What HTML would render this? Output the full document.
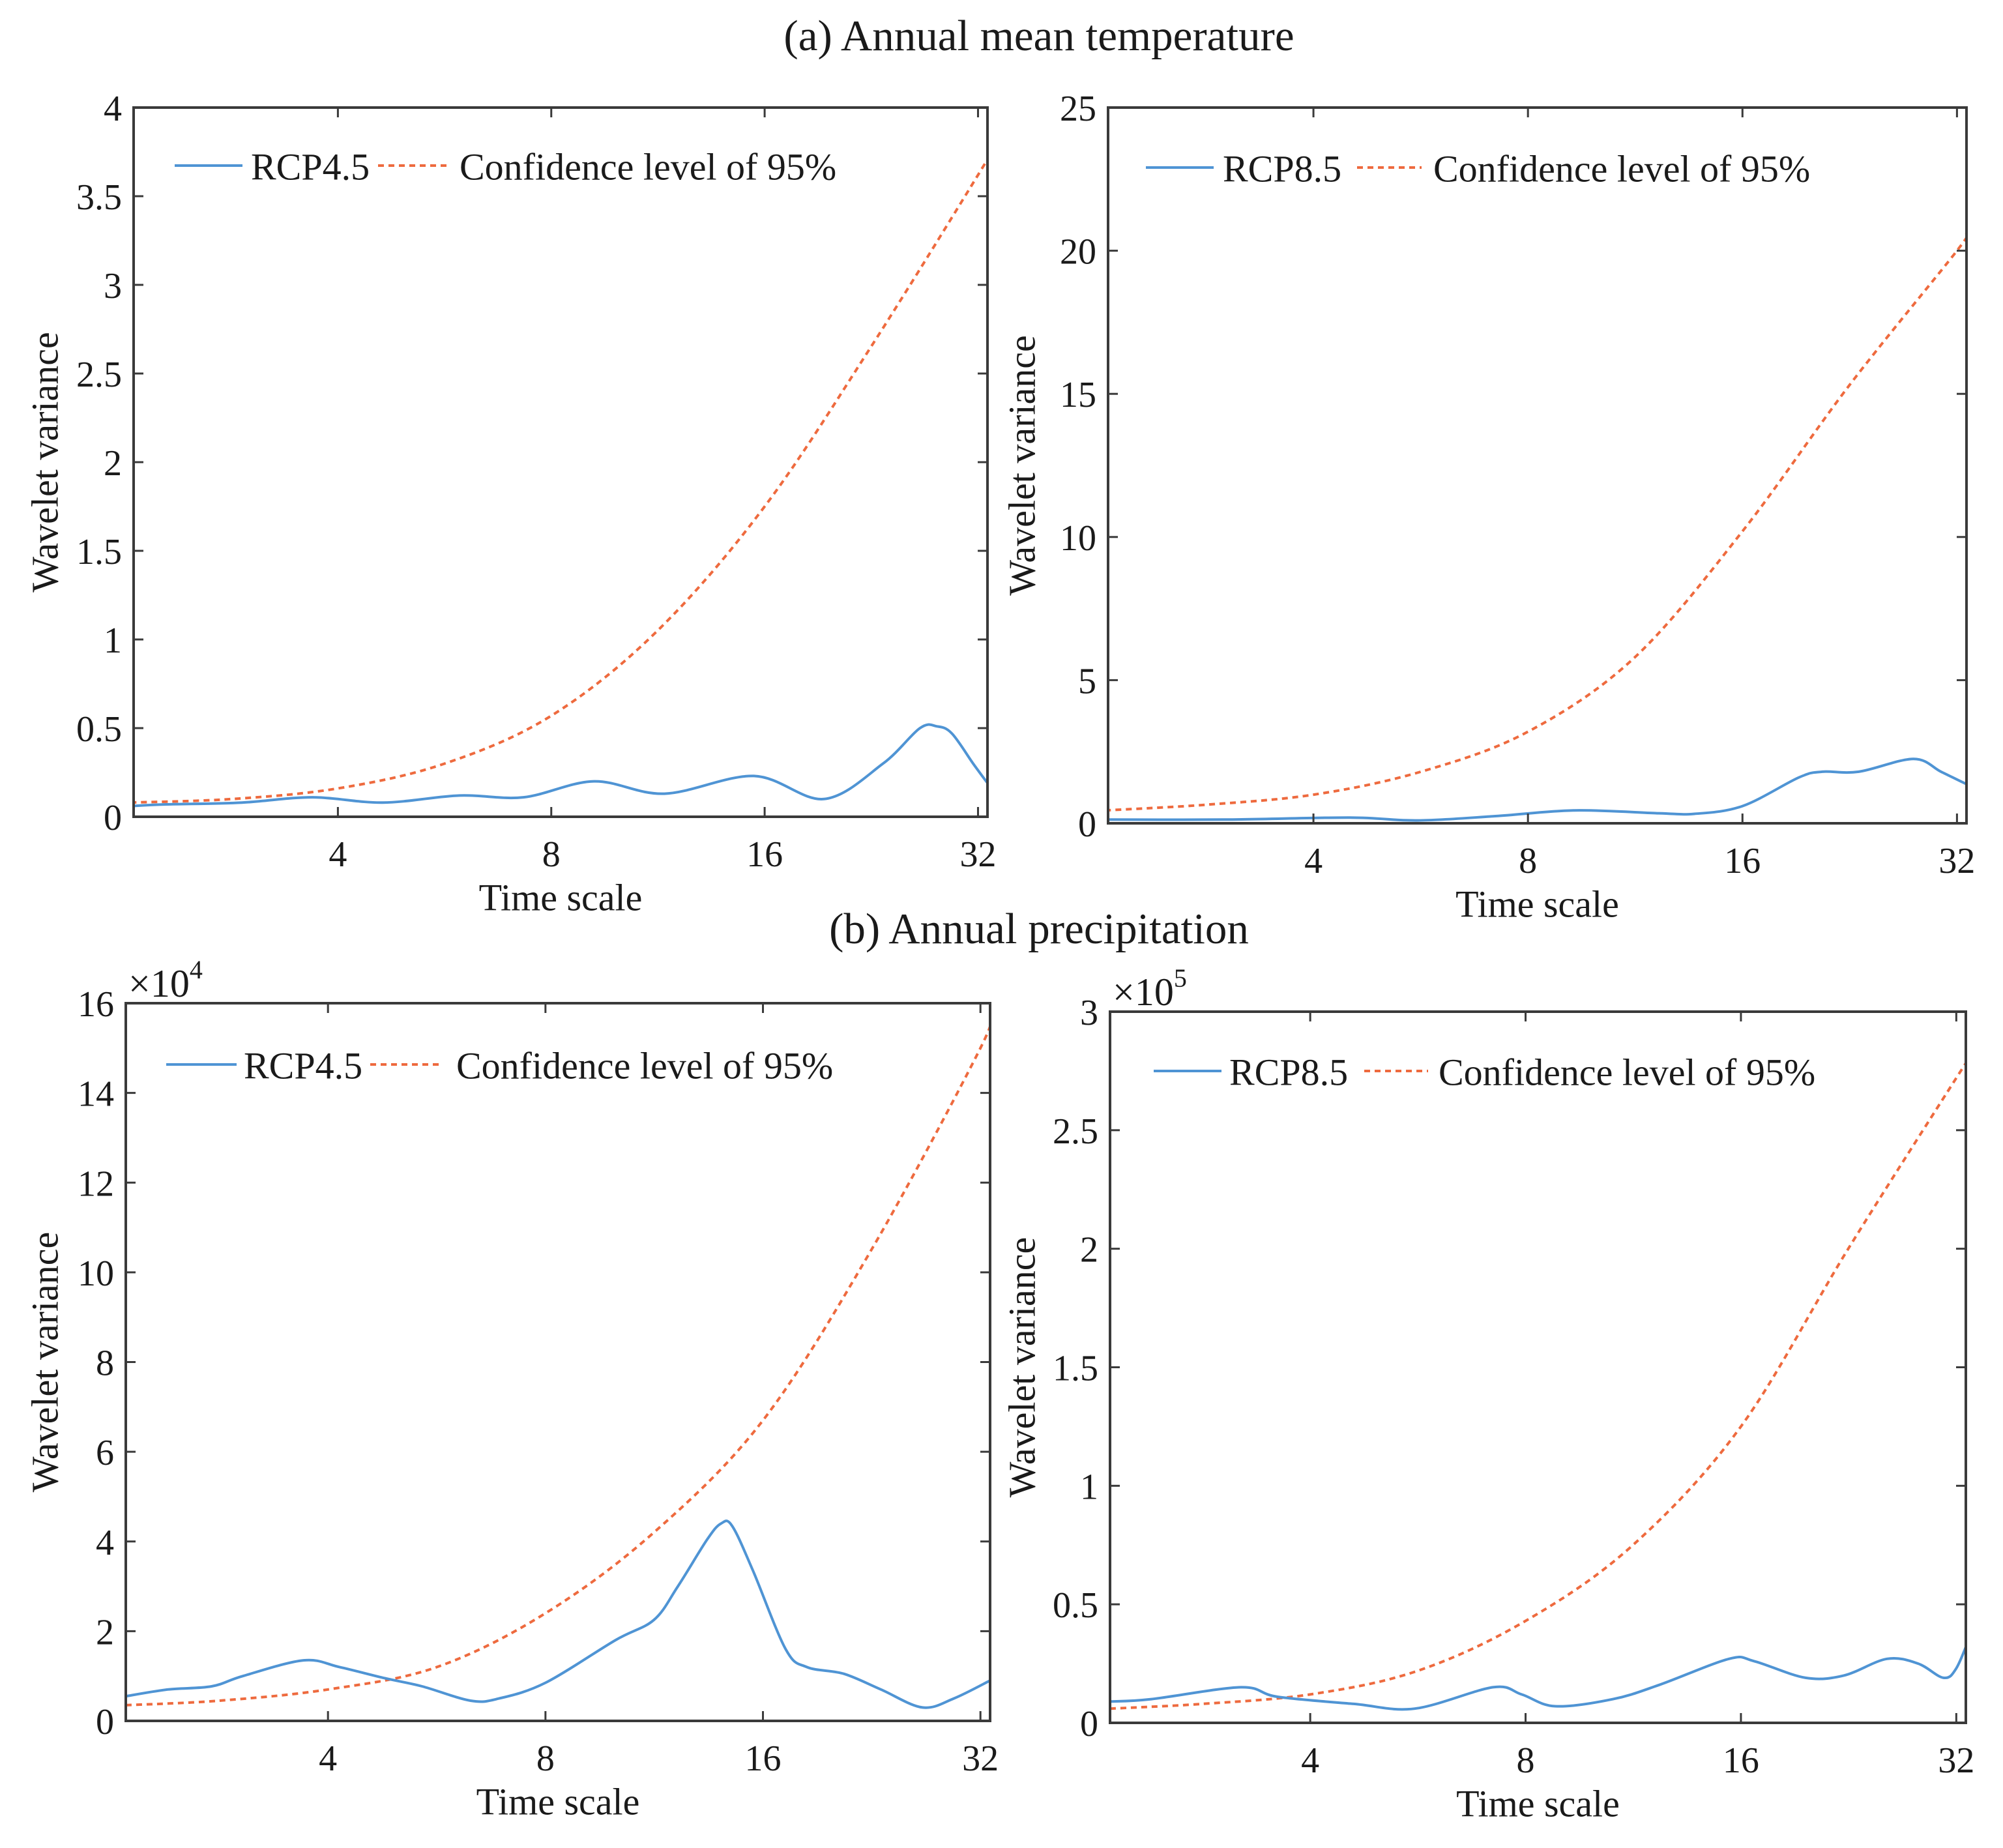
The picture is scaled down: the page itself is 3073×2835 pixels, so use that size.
<!DOCTYPE html>
<html><head><meta charset="utf-8"><style>
html,body{margin:0;padding:0;background:#fff}
svg{display:block}
text{font-family:"Liberation Serif","DejaVu Serif",serif;fill:#1a1a1a}
</style></head><body>
<svg id="fig" width="3073" height="2835" viewBox="0 0 3073 2835" xmlns="http://www.w3.org/2000/svg">
<text x="1594" y="55" font-size="67" text-anchor="middle" dominant-baseline="central">(a) Annual mean temperature</text>
<text x="1594" y="1425" font-size="67" text-anchor="middle" dominant-baseline="central">(b) Annual precipitation</text>
</svg>
<script>
// Panel A-left (temperature RCP4.5)
const aL_blueX = [2.04,2.29,2.93,3.68,4.63,5.94,7.31,9.19,11.55,15.45,19.4,23.5,26.5,28.0,29.4,31.5,33];
const aL_blueY = [0.06,0.07,0.08,0.11,0.08,0.12,0.11,0.2,0.13,0.23,0.1,0.3,0.5,0.51,0.47,0.3,0.19];
const aL_confX = [2.04,2.83,4,5.66,8,11.3,16,22.6,32,33];
const aL_confY = [0.08,0.1,0.16,0.3,0.57,1.05,1.75,2.65,3.62,3.72];
const aL_ticksY = ["0","0.5","1","1.5","2","2.5","3","3.5","4"];
// Panel A-right (temperature RCP8.5)
const aR_blueX = [2.04,3,4.5,5.6,7.2,9.3,12.2,13.7,16,19.2,20.7,23.3,27.8,30.4,32.8,33];
const aR_blueY = [0.13,0.13,0.2,0.1,0.25,0.45,0.35,0.33,0.6,1.6,1.8,1.8,2.25,1.8,1.4,1.4];
const aR_confX = [2.04,2.83,4,5.66,8,11.3,16,22.6,32,33];
const aR_confY = [0.45,0.65,1.0,1.8,3.2,5.8,10.2,15.3,20.0,20.6];
const aR_ticksY = ["0","5","10","15","20","25"];
// Panel B-left (precipitation RCP4.5, x10^4)
const bL_blueX = [2.1,2.4,2.76,3.05,3.7,4.15,4.8,5.4,6.3,6.9,8,10,11.3,12.2,13.4,14,14.5,15.5,17.2,18.4,20.7,23.3,26.6,29.4,33];
const bL_blueY = [0.55,0.7,0.77,1.0,1.35,1.2,0.95,0.77,0.45,0.5,0.85,1.8,2.25,3.0,4.05,4.4,4.35,3.35,1.6,1.2,1.05,0.7,0.3,0.5,0.9];
const bL_confX = [2.1,2.83,4,5.66,8,11.3,16,22.6,32,33];
const bL_confY = [0.35,0.45,0.7,1.2,2.4,4.2,6.7,10.5,15.0,15.8];
const bL_ticksY = ["0","2","4","6","8","10","12","14","16"];
// Panel B-right (precipitation RCP8.5, x10^5)
const bR_blueX = [2.1,2.4,3.2,3.6,4.6,5.6,7.2,7.9,8.8,10.6,12.3,15.4,16.7,19.7,22.3,25.6,28.3,30.7,32,33.5];
const bR_blueY = [0.09,0.1,0.15,0.11,0.08,0.06,0.15,0.12,0.07,0.1,0.16,0.27,0.26,0.19,0.2,0.27,0.25,0.19,0.23,0.37];
const bR_confX = [2.1,2.83,4,5.66,8,11.3,16,22.6,32,33];
const bR_confY = [0.06,0.08,0.12,0.22,0.43,0.75,1.25,2.0,2.72,2.78];
const bR_ticksY = ["0","0.5","1","1.5","2","2.5","3"];
const xTicks = [4,8,16,32];

const NS = "http://www.w3.org/2000/svg";
const svg = document.getElementById('fig');
function mk(tag, attrs, parent){
  const e = document.createElementNS(NS, tag);
  for (const k in attrs) e.setAttribute(k, attrs[k]);
  (parent||svg).appendChild(e);
  return e;
}
function smoothPath(pts){
  let d = "M"+pts[0][0].toFixed(1)+","+pts[0][1].toFixed(1);
  for (let i=0;i<pts.length-1;i++){
    const p0=pts[Math.max(0,i-1)], p1=pts[i], p2=pts[i+1], p3=pts[Math.min(pts.length-1,i+2)];
    const c1=[p1[0]+(p2[0]-p0[0])/6, p1[1]+(p2[1]-p0[1])/6];
    const c2=[p2[0]-(p3[0]-p1[0])/6, p2[1]-(p3[1]-p1[1])/6];
    d += " C"+c1[0].toFixed(1)+","+c1[1].toFixed(1)+" "+c2[0].toFixed(1)+","+c2[1].toFixed(1)+" "+p2[0].toFixed(1)+","+p2[1].toFixed(1);
  }
  return d;
}
function panel(cfg){
  const g = mk('g', {});
  
  
  const {L,R,T,B,ymax} = cfg;
  const lx0 = Math.log2(cfg.xmin), lx1 = Math.log2(cfg.xmax);
  const X = v => L + (Math.log2(v)-lx0)/(lx1-lx0)*(R-L);
  const Y = v => B - v/ymax*(B-T);
  const cid = 'clip-'+cfg.name;
  const cp = mk('clipPath', {id:cid}, g);
  mk('rect', {x:L, y:T, width:R-L, height:B-T}, cp);
  const conf = mk('path', {d:smoothPath(cfg.confX.map((x,i)=>[X(x),Y(cfg.confY[i])])), fill:'none', stroke:'#ee6a3e', 'stroke-width':4, 'stroke-dasharray':'9 7', 'clip-path':'url(#'+cid+')'}, g);
  
  
  const blue = mk('path', {d:smoothPath(cfg.blueX.map((x,i)=>[X(x),Y(cfg.blueY[i])])), fill:'none', stroke:'#4f94d4', 'stroke-width':4, 'clip-path':'url(#'+cid+')'}, g);
  
  
  const box = mk('rect', {x:L, y:T, width:R-L, height:B-T, fill:'none', stroke:'#3a3a3a', 'stroke-width':4}, g);
  
  
  xTicks.forEach(t=>{
    const x = X(t);
    mk('line', {x1:x, x2:x, y1:B, y2:B-15, stroke:'#3a3a3a', 'stroke-width':3}, g);
    mk('line', {x1:x, x2:x, y1:T, y2:T+15, stroke:'#3a3a3a', 'stroke-width':3}, g);
    const tl = mk('text', {x:x, y:B+58, 'font-size':56, 'text-anchor':'middle', 'dominant-baseline':'central'}, g);
    tl.textContent = String(t);
    
    
  });
  cfg.ticksY.forEach(s=>{
    const y = Y(parseFloat(s));
    mk('line', {x1:L, x2:L+15, y1:y, y2:y, stroke:'#3a3a3a', 'stroke-width':3}, g);
    mk('line', {x1:R, x2:R-15, y1:y, y2:y, stroke:'#3a3a3a', 'stroke-width':3}, g);
    const tl = mk('text', {x:L-18, y:y+2, 'font-size':56, 'text-anchor':'end', 'dominant-baseline':'central'}, g);
    tl.textContent = s;
    
    
  });
  const xt = mk('text', {x:(L+R)/2, y:B+124, 'font-size':58, 'text-anchor':'middle', 'dominant-baseline':'central'}, g);
  xt.textContent = 'Time scale';
  
  
  const yt = mk('text', {x:0, y:0, 'font-size':58, 'text-anchor':'middle', 'dominant-baseline':'central', transform:'translate('+cfg.ylabX+','+(T+B)/2+') rotate(-90)'}, g);
  yt.textContent = 'Wavelet variance';
  
  
  if (cfg.exp){
    const ex = mk('text', {x:L+4, y:T-30, 'font-size':60, 'text-anchor':'start', 'dominant-baseline':'central'}, g);
    ex.textContent = '\u00d710';
    
    
    const ts = mk('tspan', {dy:-22, 'font-size':40}, ex);
    ts.textContent = cfg.exp;
  }
  const lg = mk('g', {}, g);
  
  
  const ly = T + cfg.legDy;
  mk('line', {x1:L+cfg.leg[0], x2:L+cfg.leg[1], y1:ly, y2:ly, stroke:'#4f94d4', 'stroke-width':4}, lg);
  const t1 = mk('text', {x:L+cfg.leg[2], y:ly+2, 'font-size':58, 'dominant-baseline':'central'}, lg);
  t1.textContent = cfg.series;
  
  
  mk('line', {x1:L+cfg.leg[3], x2:L+cfg.leg[4], y1:ly, y2:ly, stroke:'#ee6a3e', 'stroke-width':4, 'stroke-dasharray':'9 7'}, lg);
  const t2 = mk('text', {x:L+cfg.leg[5], y:ly+2, 'font-size':58, 'dominant-baseline':'central'}, lg);
  t2.textContent = 'Confidence level of 95%';
  
  
}
panel({name:'panel-a-rcp45', L:205, R:1515, T:165, B:1253, ymax:4, xmin:2.06, xmax:33, ylabX:69,
  blueX:aL_blueX, blueY:aL_blueY, confX:aL_confX, confY:aL_confY, ticksY:aL_ticksY,
  series:'RCP4.5', legDy:89, leg:[63,167,180,375,481,500]});
panel({name:'panel-a-rcp85', L:1700, R:3017, T:165, B:1263, ymax:25, xmin:2.06, xmax:33, ylabX:1568,
  blueX:aR_blueX, blueY:aR_blueY, confX:aR_confX, confY:aR_confY, ticksY:aR_ticksY,
  series:'RCP8.5', legDy:92, leg:[58,162,176,382,481,499]});
panel({name:'panel-b-rcp45', L:193, R:1519, T:1539, B:2640, ymax:16, xmin:2.1, xmax:33, ylabX:69, exp:'4',
  blueX:bL_blueX, blueY:bL_blueY, confX:bL_confX, confY:bL_confY, ticksY:bL_ticksY,
  series:'RCP4.5', legDy:94, leg:[62,170,181,375,483,507]});
panel({name:'panel-b-rcp85', L:1703, R:3016, T:1552, B:2643, ymax:3, xmin:2.1, xmax:33, ylabX:1568, exp:'5',
  blueX:bR_blueX, blueY:bR_blueY, confX:bR_confX, confY:bR_confY, ticksY:bR_ticksY,
  series:'RCP8.5', legDy:91, leg:[67,171,183,390,488,504]});
</script>
</body></html>
